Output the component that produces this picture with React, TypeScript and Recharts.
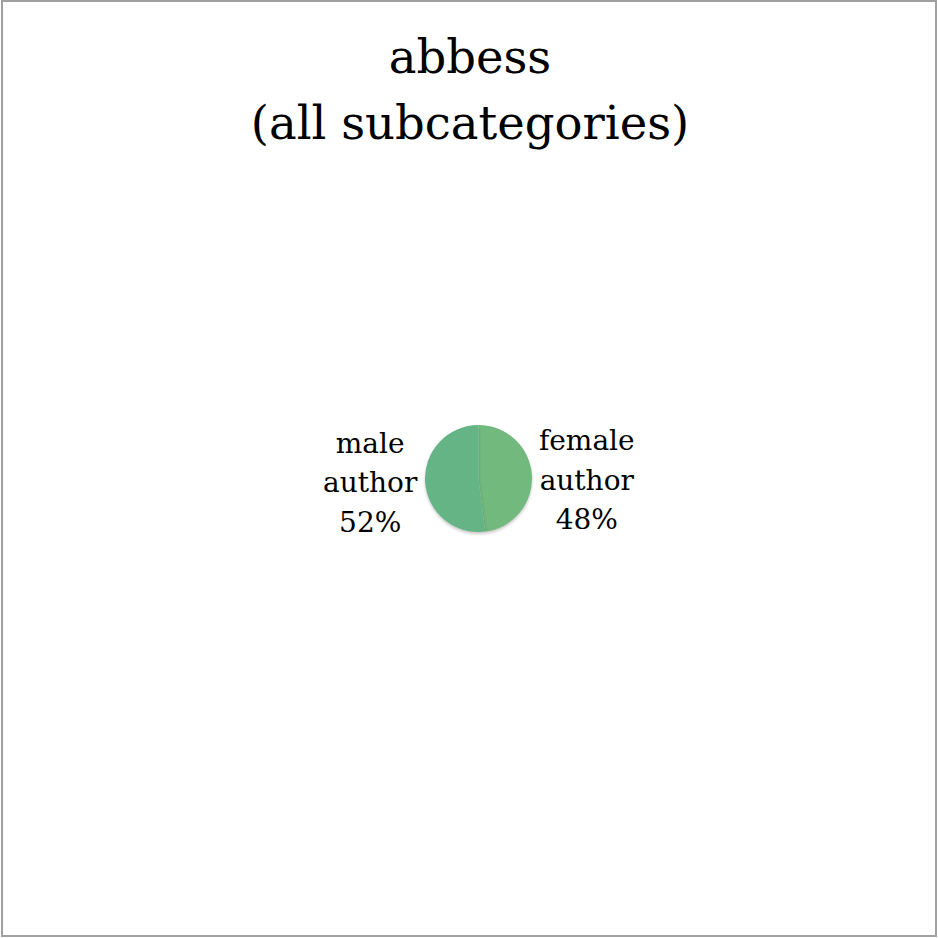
import { PieChart, Pie, Cell } from "recharts";

const categories = ["female author", "male author"];
const shares = [48, 52];
const colors = ["#72b97d", "#65b486"];
const titleLines = ["abbess", "(all subcategories)"];

const data = categories.map((name, i) => ({ name, value: shares[i] }));

const FONT = "Palatino, 'Palatino Linotype', 'DejaVu Serif', serif";
const RAD = Math.PI / 180;

const renderLabel = (props: any) => {
  const { cx, cy, midAngle, outerRadius, name, percent } = props;
  const r = outerRadius + 55;
  const x = cx + r * Math.cos(-midAngle * RAD);
  // middle line baseline, nudged by side of the pie
  const mid = cy + 12.5 - 16 * Math.sin(midAngle * RAD);
  const words = String(name).split(" ");
  const lines = [...words, `${Math.round(percent * 100)}%`];
  return (
    <text
      x={x}
      y={mid}
      textAnchor="middle"
      fill="#000"
      fontSize={28}
      fontFamily={FONT}
    >
      {lines.map((t, i) => (
        <tspan key={i} x={x} y={mid + (i - 1) * 39.5}>
          {t}
        </tspan>
      ))}
    </text>
  );
};

const App = () => {
  return (
    <div
      style={{
        position: "absolute",
        left: 0,
        top: 0,
        width: 938,
        height: 938,
        background: "#fff",
      }}
    >
      <div
        style={{
          position: "absolute",
          left: 1,
          top: 0,
          width: 936,
          height: 937,
          border: "2px solid #a0a0a0",
          boxSizing: "border-box",
        }}
      />
      <svg
        width={938}
        height={160}
        style={{ position: "absolute", left: 0, top: 0 }}
      >
        {titleLines.map((t, i) => (
          <text
            key={t}
            x={470}
            y={73 + i * 66}
            textAnchor="middle"
            fontSize={46.5}
            fontFamily={FONT}
            fill="#000"
          >
            {t}
          </text>
        ))}
      </svg>
      <div style={{ position: "absolute", left: 0, top: 0 }}>
        <PieChart
          width={938}
          height={938}
          margin={{ top: 0, right: 0, bottom: 0, left: 0 }}
        >
          <Pie
            data={data}
            dataKey="value"
            nameKey="name"
            cx={478.5}
            cy={478.5}
            outerRadius={53.5}
            startAngle={90}
            endAngle={-270}
            stroke="none"
            labelLine={false}
            label={renderLabel}
            isAnimationActive={false}
          >
            {data.map((d, i) => (
              <Cell
                key={d.name}
                fill={colors[i]}
                style={{ filter: "drop-shadow(0px 2px 1.5px rgba(0,0,0,0.22))" }}
              />
            ))}
          </Pie>
        </PieChart>
      </div>
    </div>
  );
};

export default App;
